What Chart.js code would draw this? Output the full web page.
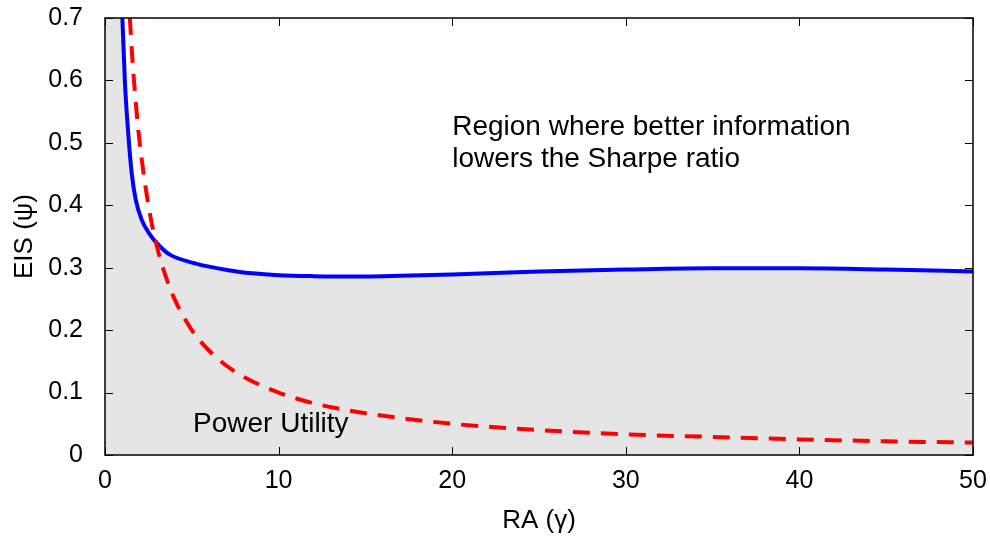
<!DOCTYPE html>
<html>
<head>
<meta charset="utf-8">
<script src="https://cdn.jsdelivr.net/npm/chart.js@4/dist/chart.umd.min.js"></script>
<style>
  html, body { margin: 0; padding: 0; background: #fff; }
</style>
</head>
<body>
<canvas id="eis-chart" width="990" height="536"></canvas>
<script>
// values
var xTicks = [0, 10, 20, 30, 40, 50];
var yTicks = [0, 0.1, 0.2, 0.3, 0.4, 0.5, 0.6, 0.7];

// boundary curve (blue)
var boundaryRA  = [0.96, 1.15, 1.34, 1.54, 1.77, 2.11, 2.59, 3.17, 3.74, 5.18, 7.1, 8.5, 10, 12, 15, 17, 20, 25, 30, 35, 40, 45, 50];
var boundaryEIS = [0.73, 0.596, 0.515, 0.451, 0.409, 0.377, 0.353, 0.334, 0.321, 0.307, 0.296, 0.291, 0.288, 0.2865, 0.286, 0.287, 0.289, 0.294, 0.297, 0.299, 0.299, 0.297, 0.294];

// power utility curve (red dashed)
var powerRA  = [1.43, 1.6, 1.8, 2, 2.5, 3, 3.5, 4, 5, 6, 7, 8, 10, 12, 15, 20, 25, 30, 35, 40, 45, 50];
var powerEIS = [0.70, 0.625, 0.556, 0.5, 0.4, 0.333, 0.286, 0.25, 0.2, 0.167, 0.143, 0.125, 0.1, 0.083, 0.067, 0.05, 0.04, 0.033, 0.029, 0.025, 0.022, 0.02];

var FONT = "'Liberation Sans', Arial, sans-serif";

function toPoints(xs, ys) {
    return xs.map(function (x, i) { return { x: x, y: ys[i] }; });
}

function noPad(s) {
    s.paddingTop = 0; s.paddingBottom = 0; s.paddingLeft = 0; s.paddingRight = 0;
}

var boundaryPts = toPoints(boundaryRA, boundaryEIS);
// shaded region: everything under the blue curve (left edge up to the top)
var shadePts = [{ x: 0, y: 0.73 }].concat(boundaryPts);

// MATLAB-ish box with inward ticks and text labels
var matlabBox = {
    id: 'matlabBox',
    afterDraw: function (chart) {
        var ctx = chart.ctx;
        var a = chart.chartArea;
        var xs = chart.scales.x, ys = chart.scales.y;
        var tl = 8;
        ctx.save();
        ctx.strokeStyle = '#000';
        ctx.lineWidth = 1.5;
        ctx.strokeRect(a.left, a.top, a.right - a.left, a.bottom - a.top);
        ctx.lineWidth = 1;
        ctx.beginPath();
        xTicks.forEach(function (v) {
            var px = Math.round(xs.getPixelForValue(v)) + 0.5;
            ctx.moveTo(px, a.bottom); ctx.lineTo(px, a.bottom - tl);
            ctx.moveTo(px, a.top); ctx.lineTo(px, a.top + tl);
        });
        yTicks.forEach(function (v) {
            var py = Math.round(ys.getPixelForValue(v)) + 0.5;
            ctx.moveTo(a.left, py); ctx.lineTo(a.left + tl, py);
            ctx.moveTo(a.right, py); ctx.lineTo(a.right - tl, py);
        });
        ctx.stroke();

        ctx.fillStyle = '#000';
        ctx.font = '28px ' + FONT;
        ctx.textAlign = 'left';
        ctx.textBaseline = 'alphabetic';
        ctx.fillText('Region where better information', xs.getPixelForValue(20), ys.getPixelForValue(0.513));
        ctx.fillText('lowers the Sharpe ratio', xs.getPixelForValue(20), ys.getPixelForValue(0.462));
        ctx.fillText('Power Utility', xs.getPixelForValue(5.07), ys.getPixelForValue(0.037));
        ctx.restore();
    }
};

new Chart(document.getElementById('eis-chart'), {
    type: 'line',
    data: {
        datasets: [
            {
                label: 'Power Utility',
                data: toPoints(powerRA, powerEIS),
                borderColor: '#ff0000',
                borderWidth: 4,
                borderDash: [17, 11],
                pointRadius: 0,
                fill: false,
                cubicInterpolationMode: 'monotone',
                order: 0
            },
            {
                label: 'Boundary',
                data: boundaryPts,
                borderColor: '#0000ff',
                borderWidth: 4,
                pointRadius: 0,
                fill: false,
                cubicInterpolationMode: 'monotone',
                order: 1
            },
            {
                label: 'Region',
                data: shadePts,
                borderWidth: 0,
                borderColor: 'rgba(0,0,0,0)',
                backgroundColor: '#e5e5e5',
                pointRadius: 0,
                fill: 'origin',
                cubicInterpolationMode: 'monotone',
                order: 2
            }
        ]
    },
    options: {
        responsive: false,
        animation: false,
        devicePixelRatio: 1,
        layout: { padding: { top: 18, right: 17, left: 0, bottom: 0 } },
        plugins: {
            legend: { display: false },
            tooltip: { enabled: false }
        },
        scales: {
            x: {
                type: 'linear',
                min: 0,
                max: 50,
                afterFit: function (s) { s.height = 81; noPad(s); },
                afterBuildTicks: function (s) { s.ticks = xTicks.map(function (v) { return { value: v }; }); },
                grid: { display: false, drawTicks: false },
                border: { display: false },
                ticks: { color: '#000', padding: 11, maxRotation: 0, font: { family: FONT, size: 25 } },
                title: { display: true, text: 'RA (γ)', color: '#000', padding: { top: 0, bottom: 0 }, font: { family: FONT, size: 26 } }
            },
            y: {
                type: 'linear',
                min: 0,
                max: 0.7,
                afterFit: function (s) { s.width = 105; noPad(s); },
                afterBuildTicks: function (s) { s.ticks = yTicks.map(function (v) { return { value: v }; }); },
                grid: { display: false, drawTicks: false },
                border: { display: false },
                ticks: {
                    color: '#000', padding: 22, font: { family: FONT, size: 25 },
                    callback: function (v) { return v === 0 ? '0' : v.toFixed(1); }
                },
                title: { display: true, text: 'EIS (ψ)', color: '#000', padding: { top: 9, bottom: 0 }, font: { family: FONT, size: 26 } }
            }
        }
    },
    plugins: [matlabBox]
});
</script>
</body>
</html>
